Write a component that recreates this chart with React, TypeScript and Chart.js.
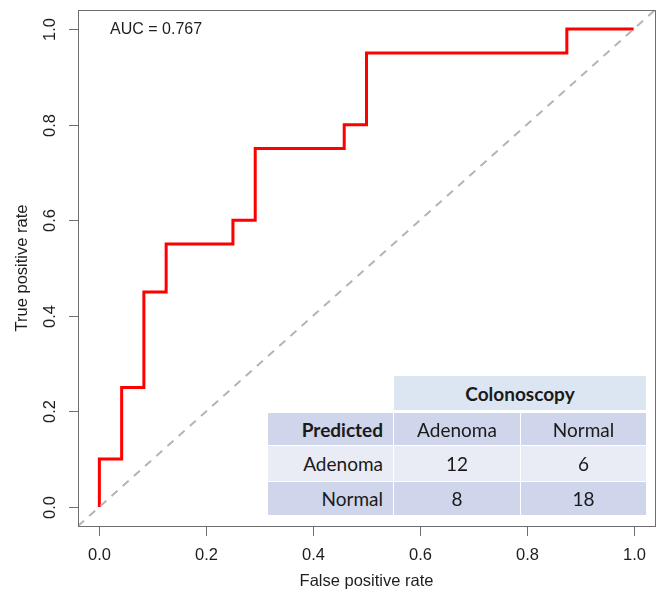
import React, { useEffect, useRef } from "react";
import { Chart, registerables } from "chart.js";

Chart.register(...registerables);

// ROC curve vertices (false positive rate, true positive rate)
const fprValues = [0, 0, 0.0417, 0.0417, 0.0833, 0.0833, 0.125, 0.125, 0.25, 0.25, 0.2917, 0.2917, 0.4583, 0.4583, 0.5, 0.5, 0.875, 0.875, 1];
const tprValues = [0, 0.1, 0.1, 0.25, 0.25, 0.45, 0.45, 0.55, 0.55, 0.6, 0.6, 0.75, 0.75, 0.8, 0.8, 0.95, 0.95, 1, 1];

const tickValues = [0, 0.2, 0.4, 0.6, 0.8, 1.0];
const tickLabels = ["0.0", "0.2", "0.4", "0.6", "0.8", "1.0"];

const xTitle = "False positive rate";
const yTitle = "True positive rate";
const aucText = "AUC = 0.767";

// confusion table
const tableHeader = "Colonoscopy";
const tableCorner = "Predicted";
const tableColLabels = ["Adenoma", "Normal"];
const tableRowLabels = ["Adenoma", "Normal"];
const tableCounts = [
  [12, 6],
  [8, 18],
];

const AXIS_FONT = '"Liberation Sans", Arial, Helvetica, sans-serif';
const TABLE_FONT = 'Lato, "Noto Sans", sans-serif';

const rPlotPlugin = {
  id: "rPlot",
  afterDraw(chart: any) {
    const { ctx, chartArea, scales } = chart;
    const xs = scales.x;
    const ys = scales.y;
    ctx.save();
    // box
    ctx.strokeStyle = "#6e6e6e";
    ctx.lineWidth = 1;
    ctx.strokeRect(chartArea.left + 0.5, chartArea.top + 0.5, chartArea.right - chartArea.left, chartArea.bottom - chartArea.top);

    ctx.fillStyle = "#1e1e1e";
    ctx.font = `16.5px ${AXIS_FONT}`;
    // x ticks
    tickValues.forEach((v, i) => {
      const px = Math.round(xs.getPixelForValue(v)) + 0.5;
      ctx.beginPath();
      ctx.moveTo(px, chartArea.bottom + 0.5);
      ctx.lineTo(px, chartArea.bottom + 10);
      ctx.stroke();
      ctx.textAlign = "center";
      ctx.textBaseline = "middle";
      ctx.fillText(tickLabels[i], px, chartArea.bottom + 29);
    });
    // y ticks
    tickValues.forEach((v, i) => {
      const py = Math.round(ys.getPixelForValue(v)) + 0.5;
      ctx.beginPath();
      ctx.moveTo(chartArea.left + 0.5, py);
      ctx.lineTo(chartArea.left - 9, py);
      ctx.stroke();
      ctx.save();
      ctx.translate(chartArea.left - 28, py);
      ctx.rotate(-Math.PI / 2);
      ctx.textAlign = "center";
      ctx.textBaseline = "middle";
      ctx.fillText(tickLabels[i], 0, 0);
      ctx.restore();
    });
    // titles
    ctx.textAlign = "center";
    ctx.textBaseline = "middle";
    ctx.fillText(xTitle, (chartArea.left + chartArea.right) / 2, chartArea.bottom + 55);
    ctx.save();
    ctx.translate(chartArea.left - 56, (chartArea.top + chartArea.bottom) / 2);
    ctx.rotate(-Math.PI / 2);
    ctx.fillText(yTitle, 0, 0);
    ctx.restore();

    // AUC annotation
    ctx.font = `16px ${AXIS_FONT}`;
    ctx.textAlign = "left";
    ctx.textBaseline = "middle";
    ctx.fillText(aucText, xs.getPixelForValue(0.02), ys.getPixelForValue(1.0));
    ctx.restore();
  },
};

function ConfusionTable() {
  const cols = [
    { left: 268, width: 125 },
    { left: 394, width: 126 },
    { left: 521, width: 125 },
  ];
  const rows = [
    { top: 413, height: 32, bg: "#cfd5ea" },
    { top: 446, height: 35, bg: "#e9ebf5" },
    { top: 482, height: 33, bg: "#cfd5ea" },
  ];
  const cellBase: React.CSSProperties = {
    position: "absolute",
    display: "flex",
    alignItems: "center",
    fontFamily: TABLE_FONT,
    fontSize: "19px",
    color: "#1a1a1a",
    boxSizing: "border-box",
    whiteSpace: "nowrap",
  };
  const body: string[][] = [
    [tableCorner, ...tableColLabels],
    ...tableRowLabels.map((r, i) => [r, ...tableCounts[i].map(String)]),
  ];
  const cells: React.ReactNode[] = [];
  cells.push(
    <div
      key="hdr"
      style={{
        ...cellBase,
        left: cols[1].left,
        top: 376,
        width: cols[2].left + cols[2].width - cols[1].left,
        height: 34,
        background: "#dce6f2",
        justifyContent: "center",
        fontWeight: 700,
      }}
    >
      {tableHeader}
    </div>
  );
  rows.forEach((r, ri) => {
    cols.forEach((c, ci) => {
      const first = ci === 0;
      cells.push(
        <div
          key={`${ri}-${ci}`}
          style={{
            ...cellBase,
            left: c.left,
            top: r.top,
            width: c.width,
            height: r.height,
            background: r.bg,
            justifyContent: first ? "flex-end" : "center",
            paddingRight: first ? 10 : 0,
            fontWeight: ri === 0 && first ? 700 : 400,
          }}
        >
          {body[ri][ci]}
        </div>
      );
    });
  });
  return <>{cells}</>;
}

export default function App() {
  const canvasRef = useRef<HTMLCanvasElement | null>(null);

  useEffect(() => {
    document.body.style.margin = "0";
    const canvas = canvasRef.current;
    if (!canvas) return;
    const rocData = fprValues.map((x, i) => ({ x, y: tprValues[i] }));
    const chart = new Chart(canvas, {
      type: "line",
      data: {
        datasets: [
          {
            data: [
              { x: -0.04, y: -0.04 },
              { x: 1.04, y: 1.04 },
            ],
            borderColor: "#b4b4b4",
            borderWidth: 2,
            borderDash: [8, 7],
            pointRadius: 0,
            fill: false,
          },
          {
            data: rocData,
            borderColor: "#ff0000",
            borderWidth: 3,
            pointRadius: 0,
            fill: false,
            tension: 0,
            borderJoinStyle: "miter",
          },
        ],
      },
      options: {
        responsive: false,
        animation: false,
        devicePixelRatio: 1,
        layout: { padding: { left: 78, right: 5, top: 10, bottom: 68 } },
        plugins: { legend: { display: false }, tooltip: { enabled: false } },
        scales: {
          x: { type: "linear", min: -0.04, max: 1.04, display: false },
          y: { type: "linear", min: -0.04, max: 1.04, display: false },
        },
        events: [],
      },
      plugins: [rPlotPlugin],
    });
    return () => chart.destroy();
  }, []);

  return (
    <div style={{ position: "relative", width: 660, height: 594, background: "#fff" }}>
      <canvas ref={canvasRef} width={660} height={594} style={{ position: "absolute", left: 0, top: 0, width: 660, height: 594 }} />
      <ConfusionTable />
    </div>
  );
}
